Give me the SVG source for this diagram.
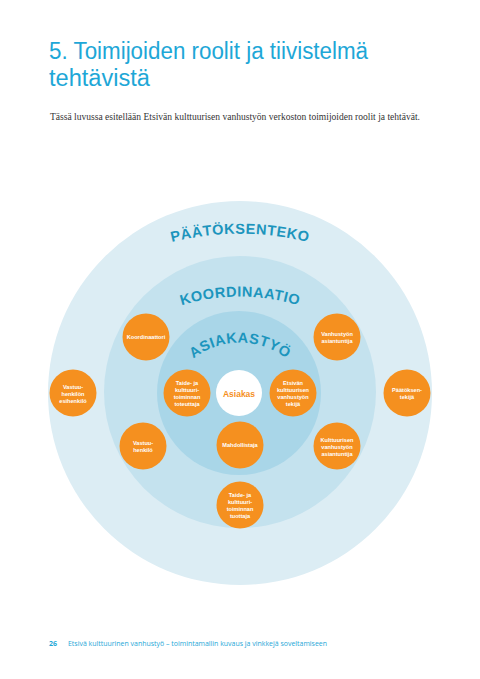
<svg xmlns="http://www.w3.org/2000/svg" width="480" height="679" viewBox="0 0 480 679">
<style>
.title{font-family:"Liberation Sans","DejaVu Sans",sans-serif;font-size:23px;fill:#1ea7d7}
.sub{font-family:"Liberation Serif",serif;font-size:9.5px;fill:#333}
.foot{font-family:"Open Sans","DejaVu Sans",sans-serif;font-size:7px;fill:#1ea7d7}
.ring{font-family:"Liberation Sans","DejaVu Sans",sans-serif;font-weight:bold;fill:#1c95bd}
.node circle{fill:#f5901f}
.node text{font-family:"Liberation Sans","DejaVu Sans",sans-serif;font-weight:bold;font-size:5.6px;fill:#fff;text-anchor:middle}
</style>
<defs>
<path id="arcP" d="M140,252 A283,283 0 0 1 340,252"/>
<path id="arcK" d="M150,318 A200,200 0 0 1 330,318"/>
<path id="arcA" d="M180,372 A76,76 0 0 1 300,372"/>
</defs>
<rect width="480" height="679" fill="#fff"/>
<text class="title" x="49" y="59" textLength="319" lengthAdjust="spacingAndGlyphs">5. Toimijoiden roolit ja tiivistelmä</text>
<text class="title" x="49" y="86" textLength="101" lengthAdjust="spacingAndGlyphs">tehtävistä</text>
<text class="sub" x="50" y="120" textLength="370" lengthAdjust="spacingAndGlyphs">Tässä luvussa esitellään Etsivän kulttuurisen vanhustyön verkoston toimijoiden roolit ja tehtävät.</text>
<g id="rings">
<circle cx="240" cy="393" r="192" fill="#dcedf4"/>
<circle cx="240" cy="392" r="136" fill="#c4e2ee"/>
<circle cx="239" cy="393" r="82" fill="#a9d6e8"/>
</g>
<g id="ring-labels">
<text class="ring" font-size="14.5" letter-spacing="0.5"><textPath href="#arcP" startOffset="50%" text-anchor="middle">PÄÄTÖKSENTEKO</textPath></text>
<text class="ring" font-size="14.5" letter-spacing="0.5"><textPath href="#arcK" startOffset="50%" text-anchor="middle">KOORDINAATIO</textPath></text>
<text class="ring" font-size="14.5" letter-spacing="0.5"><textPath href="#arcA" startOffset="50%" text-anchor="middle">ASIAKASTYÖ</textPath></text>
</g>
<g id="connectors"></g>
<g id="asiakas">
<circle cx="239" cy="393" r="23" fill="#fff"/>
<text x="239" y="396.5" text-anchor="middle" font-family="Liberation Sans, DejaVu Sans, sans-serif" font-weight="bold" font-size="8.5" fill="#f5901f">Asiakas</text>
</g>
<g id="koordinaattori" class="node"><circle cx="146" cy="337" r="23.5"/><text x="146" y="339">Koordinaattori</text></g>
<g id="vanhustyon-asiantuntija" class="node"><circle cx="337" cy="337" r="23.5"/><text x="337" y="335.5">Vanhustyön</text><text x="337" y="342.5">asiantuntija</text></g>
<g id="vastuuhenkilon-esihenkilo" class="node"><circle cx="73" cy="393" r="23.5"/><text x="73" y="388.5">Vastuu-</text><text x="73" y="395.5">henkilön</text><text x="73" y="402.5">esihenkilö</text></g>
<g id="paatoksentekija" class="node"><circle cx="407" cy="393" r="23.5"/><text x="407" y="391.5">Päätöksen-</text><text x="407" y="398.5">tekijä</text></g>
<g id="toteuttaja" class="node"><circle cx="187" cy="393" r="23.5"/><text x="187" y="385">Taide- ja</text><text x="187" y="392">kulttuuri-</text><text x="187" y="399">toiminnan</text><text x="187" y="406">toteuttaja</text></g>
<g id="etsiva-tekija" class="node"><circle cx="293" cy="393" r="23.5"/><text x="293" y="385">Etsivän</text><text x="293" y="392">kulttuurisen</text><text x="293" y="399">vanhustyön</text><text x="293" y="406">tekijä</text></g>
<g id="vastuuhenkilo" class="node"><circle cx="143" cy="446" r="23.5"/><text x="143" y="444.5">Vastuu-</text><text x="143" y="451.5">henkilö</text></g>
<g id="mahdollistaja" class="node"><circle cx="240" cy="445" r="23.5"/><text x="240" y="447">Mahdollistaja</text></g>
<g id="kulttuurisen-asiantuntija" class="node"><circle cx="337" cy="446" r="23.5"/><text x="337" y="441.5">Kulttuurisen</text><text x="337" y="448.5">vanhustyön</text><text x="337" y="455.5">asiantuntija</text></g>
<g id="tuottaja" class="node"><circle cx="240" cy="505" r="23.5"/><text x="240" y="497">Taide- ja</text><text x="240" y="504">kulttuuri-</text><text x="240" y="511">toiminnan</text><text x="240" y="518">tuottaja</text></g>
<text class="foot" x="49" y="646" font-weight="bold">26</text>
<text class="foot" x="68" y="646" textLength="259" lengthAdjust="spacingAndGlyphs">Etsivä kulttuurinen vanhustyö – toimintamallin kuvaus ja vinkkejä soveltamiseen</text>
</svg>
